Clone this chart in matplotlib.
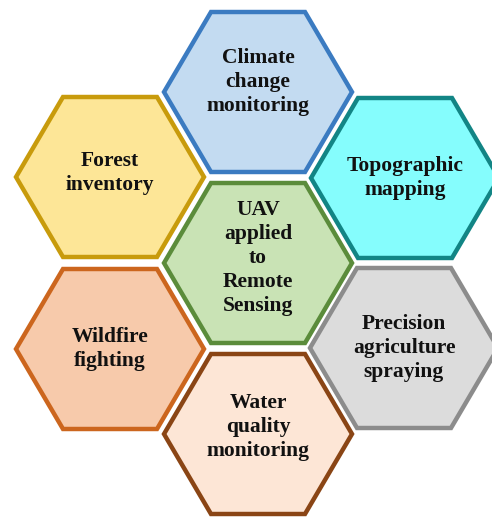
import matplotlib
matplotlib.use("Agg")
import matplotlib.pyplot as plt
from matplotlib.patches import Polygon
import numpy as np

# hexagon labels, centre first then the ring
labels = [
    "UAV\napplied\nto\nRemote\nSensing",
    "Climate\nchange\nmonitoring",
    "Topographic\nmapping",
    "Precision\nagriculture\nspraying",
    "Water\nquality\nmonitoring",
    "Wildfire\nfighting",
    "Forest\ninventory",
]
fills = ["#c9e3b5", "#c3dbf1", "#85fdfd", "#dcdcdc", "#fde6d6", "#f7caab", "#fde697"]
edges = ["#5b8c3b", "#3b7bc1", "#128585", "#8c8c8c", "#8a4515", "#cc661e", "#c89b0c"]

# layout (pixel coords of hexagon centres)
cx = [258, 258, 405, 404, 258, 110, 110]
cy = [263, 92, 178, 348, 434, 349, 177]
text_dy = [-5, -10, 0, 0, -7, 0, -4]

W, H = 492, 517
fig = plt.figure(figsize=(W / 100, H / 100), dpi=100)
ax = fig.add_axes([0, 0, 1, 1])
ax.set_xlim(0, W)
ax.set_ylim(H, 0)
ax.set_aspect("equal")
ax.axis("off")

rx, hh = 94, 80  # half width (vertex), half height (flat side)
ang = np.deg2rad(np.arange(0, 360, 60))

for lab, fc, ec, x, y, dy in zip(labels, fills, edges, cx, cy, text_dy):
    pts = np.column_stack([x + rx * np.cos(ang),
                           y + hh * np.sin(ang) / np.sin(np.pi / 3)])
    ax.add_patch(Polygon(pts, closed=True, facecolor=fc, edgecolor=ec,
                         lw=3.2, joinstyle="miter"))
    ax.text(x, y + dy, lab, ha="center", va="center", fontsize=15.5,
            fontweight="bold", family="Liberation Serif", color="#111111",
            linespacing=1.28)

fig.savefig("out.png", dpi=100)
